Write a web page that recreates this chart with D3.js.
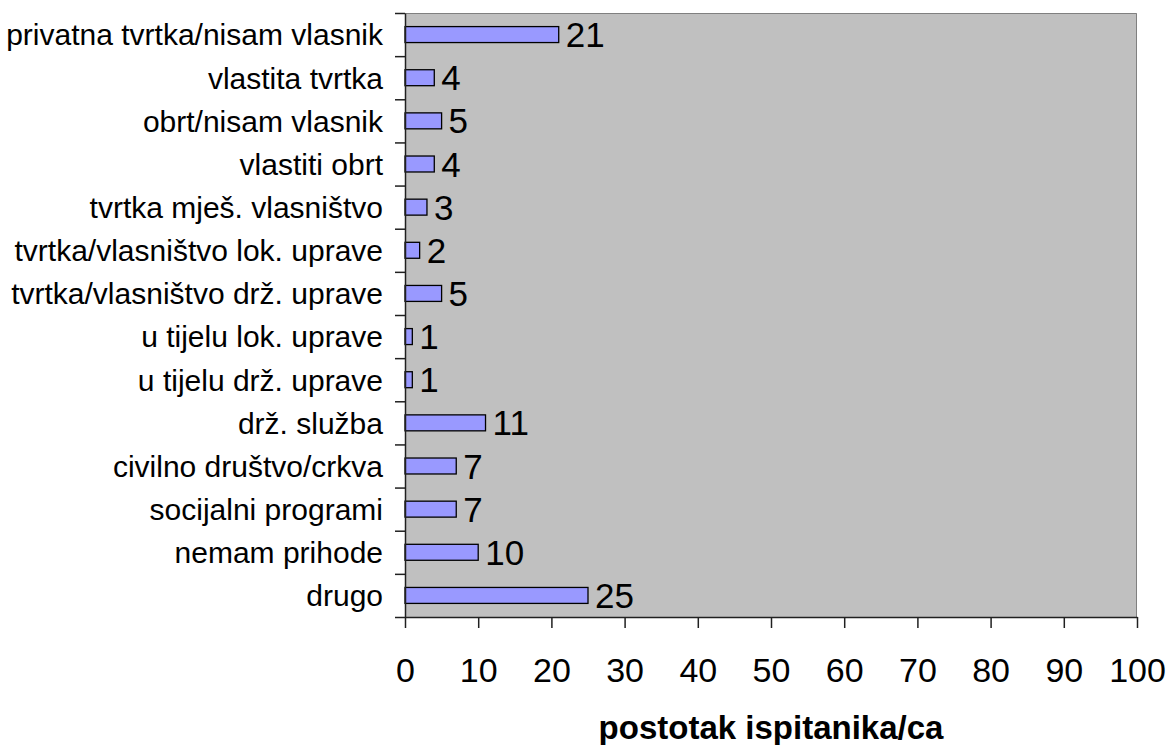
<!DOCTYPE html>
<html>
<head>
<meta charset="utf-8">
<script src="https://cdn.jsdelivr.net/npm/d3@7"></script>
<style>
  html, body { margin: 0; padding: 0; background: #ffffff; }
  svg { display: block; font-family: "Liberation Sans", Arial, sans-serif; }
</style>
</head>
<body>
<svg id="chart" width="1170" height="745"></svg>
<script>
const categories = [
  "privatna tvrtka/nisam vlasnik",
  "vlastita tvrtka",
  "obrt/nisam vlasnik",
  "vlastiti obrt",
  "tvrtka mješ. vlasništvo",
  "tvrtka/vlasništvo lok. uprave",
  "tvrtka/vlasništvo drž. uprave",
  "u tijelu lok. uprave",
  "u tijelu drž. uprave",
  "drž. služba",
  "civilno društvo/crkva",
  "socijalni programi",
  "nemam prihode",
  "drugo"
];
const values = [21, 4, 5, 4, 3, 2, 5, 1, 1, 11, 7, 7, 10, 25];
const xTicks = [0, 10, 20, 30, 40, 50, 60, 70, 80, 90, 100];
const xTitle = "postotak ispitanika/ca";

const svg = d3.select("#chart");
const plot = { left: 405, right: 1137, top: 13, bottom: 617 };

const x = d3.scaleLinear().domain([0, 100]).range([plot.left, plot.right]);
const y = d3.scaleBand().domain(categories).range([plot.top, plot.bottom])
  .paddingInner(0.63).paddingOuter(0.315);
const yEdges = d3.scaleLinear().domain([0, categories.length]).range([plot.top, plot.bottom]);

// plot background
svg.append("rect")
  .attr("x", plot.left).attr("y", plot.top)
  .attr("width", plot.right - plot.left).attr("height", plot.bottom - plot.top)
  .attr("fill", "#c0c0c0");
// top and right border
svg.append("path")
  .attr("d", `M${plot.left},${plot.top + 0.5}H${plot.right - 0.5}V${plot.bottom}`)
  .attr("fill", "none").attr("stroke", "#808080").attr("stroke-width", 1);

// bars
svg.append("g").selectAll("rect").data(values).join("rect")
  .attr("x", x(0))
  .attr("y", (d, i) => y(categories[i]))
  .attr("width", d => x(d) - x(0))
  .attr("height", y.bandwidth())
  .attr("fill", "#9999ff")
  .attr("stroke", "#000000")
  .attr("stroke-width", 1.3);

// value labels
svg.append("g").selectAll("text").data(values).join("text")
  .attr("x", d => x(d) + 7)
  .attr("y", (d, i) => y(categories[i]) + y.bandwidth() / 2)
  .attr("dy", "0.36em")
  .attr("font-size", 35)
  .attr("fill", "#000")
  .text(d => d);

// left axis with ticks at category boundaries
const yAxis = d3.axisLeft(yEdges).tickValues(d3.range(categories.length + 1))
  .tickFormat("").tickSize(10).tickSizeOuter(0);
const gy = svg.append("g").attr("transform", `translate(${plot.left},0)`).call(yAxis);
gy.selectAll("path, line").attr("stroke", "#202020").attr("stroke-width", 1.5);

// category labels
svg.append("g").selectAll("text").data(categories).join("text")
  .attr("x", plot.left - 22)
  .attr("y", d => y(d) + y.bandwidth() / 2)
  .attr("dy", "0.36em")
  .attr("text-anchor", "end")
  .attr("font-size", 30)
  .attr("fill", "#000")
  .text(d => d);

// bottom axis
const xAxis = d3.axisBottom(x).tickValues(xTicks).tickSize(11).tickSizeOuter(0).tickPadding(30);
const gx = svg.append("g").attr("transform", `translate(0,${plot.bottom})`).call(xAxis);
gx.selectAll("path, line").attr("stroke", "#202020").attr("stroke-width", 1.5);
gx.selectAll("text").attr("font-size", 34).attr("fill", "#000")
  .attr("font-family", "Liberation Sans, Arial, sans-serif");

// axis title
svg.append("text")
  .attr("x", (plot.left + plot.right) / 2)
  .attr("y", 739)
  .attr("text-anchor", "middle")
  .attr("font-size", 33)
  .attr("font-weight", "bold")
  .attr("fill", "#000")
  .text(xTitle);
</script>
</body>
</html>
